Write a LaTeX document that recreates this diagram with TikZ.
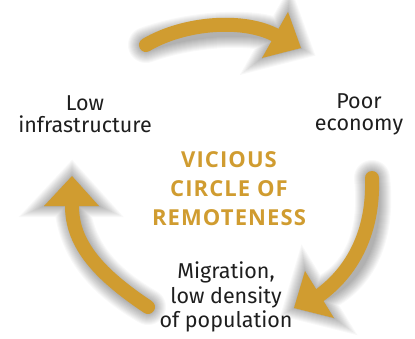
\documentclass[tikz,border=0pt]{standalone}
\usepackage{fontspec}
\setmainfont{Fira Sans}
\newfontfamily\titlefont[LetterSpace=5]{Open Sans}
\definecolor{gold}{RGB}{208,156,48}
\definecolor{txt}{RGB}{30,30,30}
\begin{document}
\begin{tikzpicture}[x=1pt,y=-1pt,
  label/.style={align=center,inner sep=0pt,text=txt,font=\fontsize{21.5}{22}\selectfont},
  title/.style={align=center,inner sep=0pt,text=gold,font=\titlefont\bfseries\fontsize{22}{29}\selectfont},
  shaft/.style={line width=14pt,line cap=round},
]
\useasboundingbox[fill=white] (0,0) rectangle (415,338);
% named points of the three arrows
\coordinate (t1) at (146,45);  \coordinate (b1) at (277,36);
\coordinate (h1a) at (288,12); \coordinate (h1b) at (301,48); \coordinate (h1c) at (262,58);
\coordinate (t2) at (372,178); \coordinate (b2) at (320,295);
\coordinate (h2a) at (305,271); \coordinate (h2b) at (294,308); \coordinate (h2c) at (334,318);
\coordinate (t3) at (148,307); \coordinate (b3) at (72,206);
\coordinate (h3a) at (44,206); \coordinate (h3b) at (72,176); \coordinate (h3c) at (99,206);
% soft shadow
\foreach \w in {0,2,...,22}{
  \begin{scope}[shift={(5,7)},transparency group,opacity=0.028,draw=black,fill=black,line join=round,every path/.append style={line width=\w pt}]
    \draw[shaft,line width=14pt+\w pt] (t1) .. controls (185,22) and (245,18) .. (b1);
    \filldraw (h1a) -- (h1b) -- (h1c) -- cycle;
    \draw[shaft,line width=14pt+\w pt] (t2) .. controls (374,235) and (350,273) .. (b2);
    \filldraw (h2a) -- (h2b) -- (h2c) -- cycle;
    \draw[shaft,line width=14pt+\w pt] (t3) .. controls (100,275) and (72,245) .. (b3);
    \filldraw (h3a) -- (h3b) -- (h3c) -- cycle;
  \end{scope}
}
\begin{scope}[draw=gold,fill=gold]
  \draw[shaft] (t1) .. controls (185,22) and (245,18) .. (b1);
  \fill (h1a) -- (h1b) -- (h1c) -- cycle;
  \draw[shaft] (t2) .. controls (374,235) and (350,273) .. (b2);
  \fill (h2a) -- (h2b) -- (h2c) -- cycle;
  \draw[shaft] (t3) .. controls (100,275) and (72,245) .. (b3);
  \fill (h3a) -- (h3b) -- (h3c) -- cycle;
\end{scope}
% texts
\node[label] (low) at (85,114) {Low\\infrastructure};
\node[label] (poor) at (359,114) {Poor\\economy};
\node[label,font=\fontsize{21.5}{24.5}\selectfont] (mig) at (226,297) {Migration,\\low density\\of population};
\node[title] (vc) at (229,189) {VICIOUS\\CIRCLE OF\\REMOTENESS};
\end{tikzpicture}
\end{document}
